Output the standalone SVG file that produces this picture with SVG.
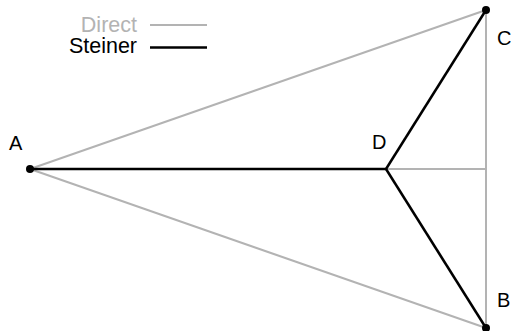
<svg xmlns="http://www.w3.org/2000/svg" width="511" height="331" viewBox="0 0 511 331">
<style>
text{font-family:"Liberation Sans",Arial,sans-serif;font-size:20px;fill:#000}
.leg{font-size:21.5px}
.direct{stroke:#b3b3b3;stroke-width:2;fill:none}
.steiner{stroke:#000;stroke-width:2.5;fill:none}
.dot{fill:#000}
</style>
<rect width="511" height="331" fill="#fff"/>
<g id="connectors">
<line class="direct" x1="30" y1="169" x2="486" y2="10"/>
<line class="direct" x1="30" y1="169" x2="486" y2="328"/>
<line class="direct" x1="486" y1="10" x2="486" y2="328"/>
<line class="direct" x1="386" y1="169" x2="486" y2="169"/>
<line class="steiner" x1="30" y1="169" x2="386" y2="169"/>
<line class="steiner" x1="386" y1="169" x2="486" y2="10"/>
<line class="steiner" x1="386" y1="169" x2="486" y2="328"/>
</g>
<g id="A"><circle class="dot" cx="30" cy="169" r="4"/><text x="9" y="150">A</text></g>
<g id="B"><circle class="dot" cx="486" cy="328" r="4"/><text x="497" y="307">B</text></g>
<g id="C"><circle class="dot" cx="486" cy="10" r="4"/><text x="497" y="45">C</text></g>
<g id="D"><text x="372" y="149">D</text></g>
<g id="legend">
<text class="leg" x="137" y="32" text-anchor="end" style="fill:#b3b3b3">Direct</text>
<line class="direct" x1="150" y1="25" x2="207" y2="25"/>
<text class="leg" x="137" y="53" text-anchor="end">Steiner</text>
<line class="steiner" x1="150" y1="47.5" x2="207" y2="47.5"/>
</g>
</svg>
